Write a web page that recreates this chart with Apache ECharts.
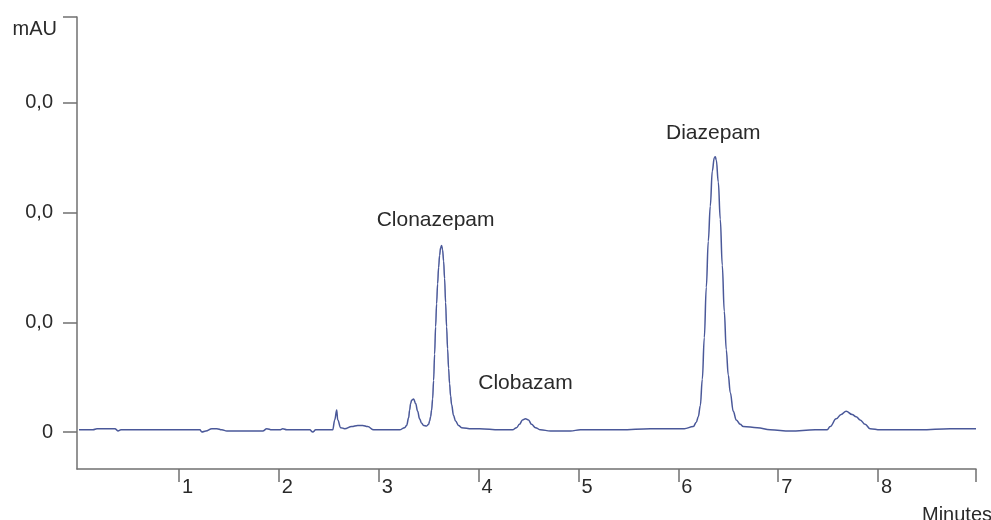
<!DOCTYPE html>
<html>
<head>
<meta charset="utf-8">
<script src="https://cdn.jsdelivr.net/npm/echarts@6/dist/echarts.min.js"></script>
<style>html,body{margin:0;padding:0;background:#fff;}#c{width:991px;height:520px;}</style>
</head>
<body>
<div id="c"></div>
<script>
// Retention time (minutes) and absorbance (axis units)
const times = [0.00,0.14,0.18,0.26,0.36,0.39,0.42,1.21,1.23,1.27,1.33,1.38,1.43,1.48,1.84,1.88,1.93,2.01,2.04,2.08,2.31,2.34,2.37,2.54,2.56,2.58,2.59,2.62,2.66,2.73,2.79,2.84,2.89,2.95,3.21,3.26,3.28,3.30,3.31,3.32,3.33,3.35,3.37,3.39,3.41,3.43,3.45,3.48,3.50,3.51,3.52,3.53,3.54,3.55,3.56,3.57,3.58,3.59,3.60,3.61,3.62,3.63,3.64,3.65,3.66,3.67,3.68,3.69,3.70,3.71,3.72,3.73,3.75,3.77,3.80,3.83,3.93,4.01,4.21,4.34,4.38,4.41,4.44,4.47,4.50,4.53,4.57,4.62,4.72,4.92,5.02,5.42,5.72,6.06,6.15,6.18,6.20,6.22,6.24,6.26,6.28,6.30,6.32,6.34,6.36,6.37,6.38,6.40,6.42,6.44,6.46,6.48,6.50,6.52,6.55,6.58,6.62,6.65,6.79,6.92,7.12,7.37,7.49,7.52,7.58,7.63,7.68,7.74,7.78,7.82,7.87,7.92,8.02,8.42,8.72,8.98];
const signal = [0.02,0.02,0.03,0.03,0.03,0.01,0.02,0.02,0.00,0.01,0.03,0.03,0.02,0.01,0.01,0.03,0.02,0.02,0.03,0.02,0.02,0.00,0.02,0.02,0.11,0.20,0.11,0.04,0.03,0.05,0.06,0.06,0.05,0.02,0.02,0.04,0.06,0.13,0.20,0.26,0.29,0.30,0.26,0.19,0.12,0.08,0.06,0.055,0.07,0.10,0.14,0.20,0.30,0.47,0.71,0.96,1.17,1.35,1.50,1.61,1.68,1.70,1.66,1.56,1.40,1.18,0.96,0.76,0.58,0.44,0.33,0.25,0.15,0.10,0.06,0.04,0.03,0.03,0.02,0.02,0.04,0.07,0.11,0.12,0.11,0.07,0.04,0.02,0.01,0.01,0.02,0.02,0.03,0.03,0.05,0.09,0.14,0.24,0.48,0.86,1.32,1.74,2.06,2.38,2.50,2.51,2.48,2.28,1.94,1.52,1.10,0.75,0.52,0.36,0.19,0.11,0.07,0.05,0.04,0.02,0.01,0.02,0.02,0.05,0.12,0.16,0.19,0.16,0.14,0.11,0.07,0.03,0.02,0.02,0.03,0.03];
const peakNames = ['Clonazepam','Clobazam','Diazepam'];
const peakTimes = [3.63,4.47,6.37];
const peakHeights = [1.70,0.12,2.51];
const xTickLabels = [1,2,3,4,5,6,7,8];
const yTickValues = [0,1,2,3];
const yTickLabels = ['0','0,0','0,0','0,0'];
const xRange = [-0.02, 8.98];
const yRange = [-0.337, 3.783];

const font = 'Liberation Sans, Arial, sans-serif';
const axisColor = '#707070';
const textColor = '#2a2a2a';
const labelOffsets = [[-6,-25],[0,-36],[-2,-23]];

const chart = echarts.init(document.getElementById('c'), null, {renderer:'canvas'});
chart.setOption({
  animation: false,
  backgroundColor: '#ffffff',
  grid: {left: 77, right: 15, top: 17, bottom: 51, containLabel: false, outerBoundsMode: 'none'},
  xAxis: {
    type: 'value', min: xRange[0], max: xRange[1],
    name: 'Minutes', nameLocation: 'end', nameGap: -54,
    nameTextStyle: {fontFamily: font, fontSize: 20, color: textColor, align: 'left', verticalAlign: 'top', padding: [36,0,0,0]},
    axisLine: {onZero: false, lineStyle: {color: axisColor, width: 1.5}},
    axisTick: {show: true, inside: false, length: 13, customValues: xTickLabels.concat([xRange[1]]), lineStyle: {color: axisColor, width: 1.5}},
    axisLabel: {customValues: xTickLabels, fontFamily: font, fontSize: 20, color: textColor, align: 'left', verticalAlign: 'top', margin: 8, padding: [0,0,0,3]},
    splitLine: {show: false}
  },
  yAxis: {
    type: 'value', min: yRange[0], max: yRange[1],
    name: 'mAU', nameLocation: 'end', nameGap: -12,
    nameTextStyle: {fontFamily: font, fontSize: 20, color: textColor, align: 'right', verticalAlign: 'middle', padding: [0,20,0,0]},
    axisLine: {onZero: false, lineStyle: {color: axisColor, width: 1.5}},
    axisTick: {show: true, inside: false, length: 14, customValues: yTickValues.concat([yRange[1]]), lineStyle: {color: axisColor, width: 1.5}},
    axisLabel: {customValues: yTickValues, fontFamily: font, fontSize: 20, color: textColor, margin: 24,
      formatter: function(v){ const i = yTickValues.indexOf(Math.round(v)); return i >= 0 ? yTickLabels[i] : ''; }},
    splitLine: {show: false}
  },
  series: [{
    type: 'line',
    data: times.map((t,i) => [t, signal[i]]),
    showSymbol: false,
    smooth: 0.4,
    smoothMonotone: 'x',
    lineStyle: {color: '#4a5899', width: 1.5},
    markPoint: {
      symbol: 'circle', symbolSize: 0,
      data: peakNames.map((n,i) => ({
        name: n, coord: [peakTimes[i], peakHeights[i]],
        label: {show: true, formatter: '{b}', position: 'inside', offset: labelOffsets[i],
          fontFamily: font, fontSize: 21, color: textColor}
      }))
    }
  }]
});
</script>
</body>
</html>
